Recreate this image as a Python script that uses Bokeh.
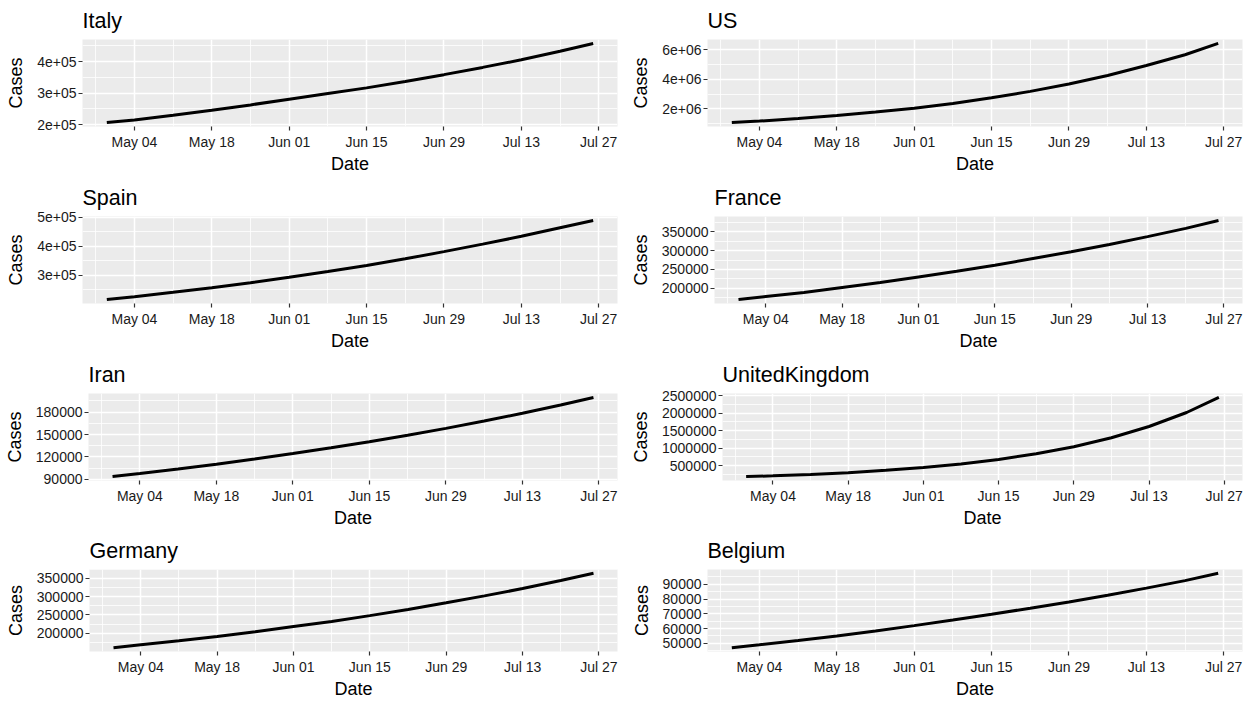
import pandas as pd
from bokeh.plotting import figure
from bokeh.layouts import column, row
from bokeh.models import Range1d, FixedTicker, DatetimeTickFormatter
from bokeh.embed import file_html
from bokeh.resources import INLINE

# ---------------- data ----------------
DATES = ["2020-04-29", "2020-05-04", "2020-05-11", "2020-05-18", "2020-05-25",
         "2020-06-01", "2020-06-08", "2020-06-15", "2020-06-22", "2020-06-29",
         "2020-07-06", "2020-07-13", "2020-07-20", "2020-07-26"]

ITALY = [207000, 215000, 230000, 246000, 263000, 281000, 299000, 317000,
         337000, 359000, 382000, 406000, 433000, 458000]
US = [1080000, 1180000, 1350000, 1560000, 1790000, 2040000, 2360000, 2750000,
      3180000, 3680000, 4250000, 4920000, 5650000, 6410000]
SPAIN = [215000, 225000, 240000, 256000, 273000, 292000, 312000, 333000,
         356000, 381000, 407000, 434000, 464000, 489000]
FRANCE = [170000, 178000, 189000, 202000, 215000, 230000, 245000, 261000,
          279000, 297000, 316000, 337000, 359000, 380000]
IRAN = [93600, 97700, 103700, 110200, 117000, 124400, 132100, 140300,
        149000, 158200, 168100, 178500, 189600, 199700]
UK = [190000, 210000, 250000, 300000, 370000, 450000, 550000, 680000,
      840000, 1040000, 1300000, 1620000, 2020000, 2450000]
GERMANY = [160000, 168000, 179000, 191000, 204000, 218000, 232000, 248000,
           265000, 283000, 302000, 322000, 344000, 364000]
BELGIUM = [47000, 49000, 51900, 55000, 58300, 62000, 65800, 69700,
           73800, 78000, 82600, 87400, 92500, 97500]

X_TICKS = ["2020-05-04", "2020-05-18", "2020-06-01", "2020-06-15",
           "2020-06-29", "2020-07-13", "2020-07-27"]
X_MINOR = ["2020-04-27", "2020-05-11", "2020-05-25", "2020-06-08",
           "2020-06-22", "2020-07-06", "2020-07-20"]

ITALY_YT = [200000, 300000, 400000]
ITALY_YL = ["2e+05", "3e+05", "4e+05"]
ITALY_YM = [250000, 350000, 450000]
US_YT = [2000000, 4000000, 6000000]
US_YL = ["2e+06", "4e+06", "6e+06"]
US_YM = [1000000, 3000000, 5000000]
SPAIN_YT = [300000, 400000, 500000]
SPAIN_YL = ["3e+05", "4e+05", "5e+05"]
SPAIN_YM = [250000, 350000, 450000]
FRANCE_YT = [200000, 250000, 300000, 350000]
FRANCE_YL = ["200000", "250000", "300000", "350000"]
FRANCE_YM = [175000, 225000, 275000, 325000, 375000]
IRAN_YT = [90000, 120000, 150000, 180000]
IRAN_YL = ["90000", "120000", "150000", "180000"]
IRAN_YM = [105000, 135000, 165000, 195000]
UK_YT = [500000, 1000000, 1500000, 2000000, 2500000]
UK_YL = ["500000", "1000000", "1500000", "2000000", "2500000"]
UK_YM = [250000, 750000, 1250000, 1750000, 2250000]
GERMANY_YT = [200000, 250000, 300000, 350000]
GERMANY_YL = ["200000", "250000", "300000", "350000"]
GERMANY_YM = [175000, 225000, 275000, 325000, 375000]
BELGIUM_YT = [50000, 60000, 70000, 80000, 90000]
BELGIUM_YL = ["50000", "60000", "70000", "80000", "90000"]
BELGIUM_YM = [45000, 55000, 65000, 75000, 85000, 95000]

PANELS = [
    ("Italy", ITALY, ITALY_YT, ITALY_YL, ITALY_YM),
    ("US", US, US_YT, US_YL, US_YM),
    ("Spain", SPAIN, SPAIN_YT, SPAIN_YL, SPAIN_YM),
    ("France", FRANCE, FRANCE_YT, FRANCE_YL, FRANCE_YM),
    ("Iran", IRAN, IRAN_YT, IRAN_YL, IRAN_YM),
    ("UnitedKingdom", UK, UK_YT, UK_YL, UK_YM),
    ("Germany", GERMANY, GERMANY_YT, GERMANY_YL, GERMANY_YM),
    ("Belgium", BELGIUM, BELGIUM_YT, BELGIUM_YL, BELGIUM_YM),
]

# ---------------- layout / style ----------------
FONT = "Liberation Sans"
COL_W = [625, 625]
COL_RIGHT = [8, 8]
LEFT_BORDER = [82, 82, 82, 89, 88, 97, 89, 82]
ROW_H = [177, 177, 176, 171]
TOP_B = 39
FRAME_H = 87


def to_ms(s):
    return int(pd.Timestamp(s).value // 10**6)


xs = [to_ms(d) for d in DATES]
x_span = max(xs) - min(xs)
fmt = "%b %d"


def make_panel(i, title, vals, yt, yl, ym):
    r, c = divmod(i, 2)
    h = ROW_H[r]
    p = figure(width=COL_W[c], height=h, x_axis_type="datetime",
               output_backend="svg", toolbar_location=None,
               min_border_left=LEFT_BORDER[i], min_border_right=COL_RIGHT[c],
               min_border_top=TOP_B, min_border_bottom=h - TOP_B - FRAME_H,
               title=title)
    p.x_range = Range1d(min(xs) - 0.05 * x_span, max(xs) + 0.05 * x_span)
    y_span = max(vals) - min(vals)
    p.y_range = Range1d(min(vals) - 0.05 * y_span, max(vals) + 0.05 * y_span)

    p.line(xs, vals, line_color="black", line_width=3)

    p.background_fill_color = "#EBEBEB"
    p.border_fill_color = "white"
    p.outline_line_color = None

    p.xaxis.ticker = FixedTicker(ticks=[to_ms(d) for d in X_TICKS],
                                 minor_ticks=[to_ms(d) for d in X_MINOR])
    p.xaxis.formatter = DatetimeTickFormatter(
        milliseconds=fmt, seconds=fmt, minsec=fmt, minutes=fmt, hourmin=fmt,
        hours=fmt, days=fmt, months=fmt, years=fmt)
    p.yaxis.ticker = FixedTicker(ticks=yt, minor_ticks=ym)
    p.yaxis.major_label_overrides = {int(v): s for v, s in zip(yt, yl)}

    p.xaxis.axis_label = "Date"
    p.yaxis.axis_label = "Cases"
    for ax in (p.xaxis[0], p.yaxis[0]):
        ax.axis_line_color = None
        ax.major_tick_line_color = "#333333"
        ax.major_tick_line_width = 1.2
        ax.major_tick_out = 4
        ax.major_tick_in = 0
        ax.minor_tick_line_color = None
        ax.major_label_text_font = FONT
        ax.major_label_text_font_size = "14px"
        ax.major_label_text_color = "#1a1a1a"
        ax.axis_label_text_font = FONT
        ax.axis_label_text_font_size = "18px"
        ax.axis_label_text_font_style = "normal"
        ax.axis_label_text_color = "black"
    p.xaxis.major_label_standoff = 3
    p.xaxis.axis_label_standoff = 1
    p.yaxis.major_label_standoff = 2
    p.yaxis.axis_label_standoff = 8

    for g in (p.xgrid[0], p.ygrid[0]):
        g.grid_line_color = "white"
        g.grid_line_width = 1.5
        g.minor_grid_line_color = "white"
        g.minor_grid_line_width = 0.8

    p.title.text_font = FONT
    p.title.text_font_size = "21.5px"
    p.title.text_font_style = "normal"
    p.title.text_color = "black"
    p.title.align = "left"
    p.title.standoff = 13
    return p


figs = [make_panel(i, *spec) for i, spec in enumerate(PANELS)]
layout = column(*[row(figs[2 * r], figs[2 * r + 1]) for r in range(4)])

open("out.html", "w").write(file_html(layout, INLINE))
